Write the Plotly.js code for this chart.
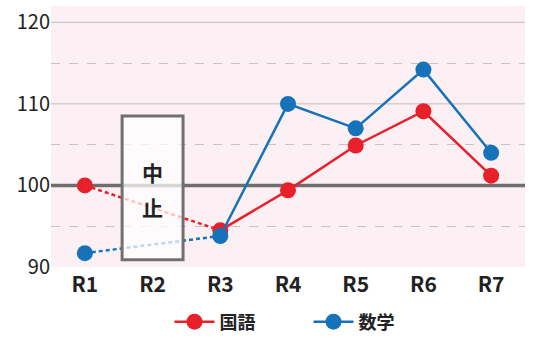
<!DOCTYPE html>
<html><head><meta charset="utf-8">
<script src="https://cdn.plot.ly/plotly-3.0.1.min.js"></script>
<style>html,body{margin:0;padding:0;background:#fff}</style>
</head><body>
<div id="chart" style="width:535px;height:340px"></div>
<script>
const categories = ["R1","R2","R3","R4","R5","R6","R7"];
const kokugo = [100, null, 94.5, 99.4, 104.9, 109.1, 101.2];
const sugaku = [91.7, null, 93.8, 110.0, 107.0, 114.2, 104.0];
const yTicks = [90, 100, 110, 120];
const solidGrid = [110, 120];
const boxText = ["中", "止"];

const red = "#e8202a", blue = "#1672b9";
const font = "Noto Sans CJK JP, Noto Sans, sans-serif";

function gapTrace(vals, color) {
  return {x:[categories[0], categories[2]], y:[vals[0], vals[2]], type:"scatter", mode:"lines",
    line:{color:color, width:2.5, dash:"4px,3px"}, showlegend:false, hoverinfo:"skip"};
}
const traces = [
  gapTrace(kokugo, red),
  gapTrace(sugaku, blue),
  {x:categories, y:kokugo, name:"国語", type:"scatter", mode:"lines+markers",
   line:{color:red, width:2.5}, marker:{color:red, size:16}},
  {x:categories, y:sugaku, name:"数学", type:"scatter", mode:"lines+markers",
   line:{color:blue, width:2.5}, marker:{color:blue, size:16}}
];

const shapes = solidGrid.map(v => ({type:"line", xref:"paper", x0:0, x1:1, yref:"y", y0:v, y1:v,
  layer:"between", line:{color:"#bdbdbd", width:1}}));
shapes.push({type:"line", xref:"paper", x0:0, x1:1, yref:"y", y0:100, y1:100, layer:"between",
  line:{color:"#6e6e6e", width:3.5}});
shapes.push({type:"rect", xref:"x", yref:"y", x0:0.55, x1:1.45, y0:90.9, y1:108.5, layer:"above",
  fillcolor:"rgba(255,255,255,0.72)", line:{color:"#707070", width:3}});

const layout = {
  width:535, height:340,
  margin:{l:51, r:10, t:6, b:73},
  paper_bgcolor:"#ffffff", plot_bgcolor:"#fdf0f4",
  font:{family:font, color:"#222"},
  xaxis:{type:"category", categoryarray:categories, range:[-0.5, 6.5], showgrid:false, zeroline:false,
    showline:false, ticks:"", ticklabelstandoff:3, tickfont:{size:21, weight:"bold", color:"#222"}},
  yaxis:{range:[90, 122], tickvals:yTicks, ticktext:yTicks.map(String), showgrid:false,
    zeroline:false, showline:false, ticks:"", tickfont:{size:20, color:"#222"},
    minor:{tickvals:[95, 105, 115], showgrid:true, gridcolor:"#c4c4c4", griddash:"dash", gridwidth:1, ticks:""}},
  showlegend:true,
  legend:{orientation:"h", x:0.25, xanchor:"left", yref:"container", y:0.053, yanchor:"middle",
    font:{size:18, weight:"bold", color:"#222"}, itemwidth:40, entrywidth:84, entrywidthmode:"pixels"},
  shapes:shapes,
  annotations:[
    {x:1, y:101.7, xref:"x", yref:"y", text:boxText[0], showarrow:false, font:{size:21, weight:"bold", color:"#222"}},
    {x:1, y:97.4, xref:"x", yref:"y", text:boxText[1], showarrow:false, font:{size:21, weight:"bold", color:"#222"}}
  ]
};
Plotly.newPlot("chart", traces, layout, {displayModeBar:false, staticPlot:true});
</script>
</body></html>
